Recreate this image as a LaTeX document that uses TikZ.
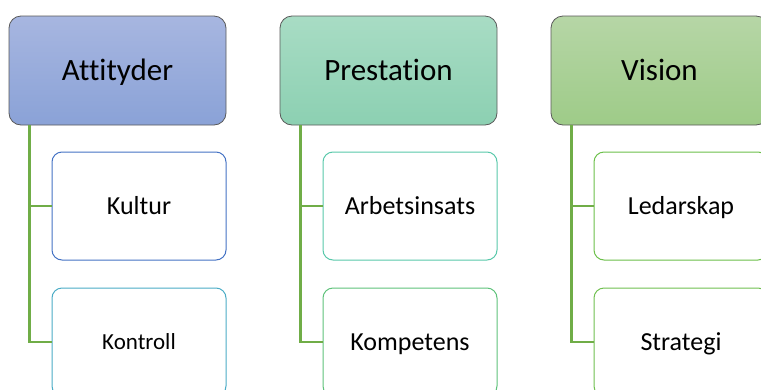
\documentclass[tikz,border=0pt]{standalone}
\usepackage{fontspec}
\setmainfont{Carlito}[Ligatures=NoCommon]
\usetikzlibrary{positioning}
\definecolor{attityderTop}{RGB}{167,182,224}
\definecolor{attityderBot}{RGB}{138,162,215}
\definecolor{prestationTop}{RGB}{168,220,196}
\definecolor{prestationBot}{RGB}{140,208,178}
\definecolor{visionTop}{RGB}{182,214,166}
\definecolor{visionBot}{RGB}{158,203,136}
\definecolor{kulturline}{RGB}{68,114,196}
\definecolor{kontrollline}{RGB}{75,172,198}
\definecolor{arbetsline}{RGB}{88,200,170}
\definecolor{kompetensline}{RGB}{94,194,122}
\definecolor{ledarline}{RGB}{108,192,74}
\definecolor{strategiline}{RGB}{112,192,80}
\definecolor{branchgreen}{RGB}{112,173,71}

\begin{document}
\begin{tikzpicture}[x=1pt, y=1pt, on grid,
    header/.style={rectangle, rounded corners=12pt, draw=black!65, line width=0.8pt,
        minimum width=217pt, minimum height=109pt, text height=20pt, text depth=0pt,
        font=\fontsize{31}{36}\selectfont},
    item/.style={rectangle, rounded corners=10pt, fill=white, line width=1pt,
        minimum width=174pt, minimum height=108pt, text height=16.7pt, text depth=0pt,
        font=\fontsize{26}{30}\selectfont},
    branch/.style={draw=branchgreen, line width=2.6pt}]
  \useasboundingbox (0,0) rectangle (761,-389);
  \clip (0,0) rectangle (761,-389);
  % headers
  \node [header, top color=attityderTop, bottom color=attityderBot] (ATT) at (117.5,-70.5) {Attityder};
  \node [header, top color=prestationTop, bottom color=prestationBot] (PRE) [right=271pt of ATT] {Prestation};
  \node [header, top color=visionTop, bottom color=visionBot] (VIS) [right=271pt of PRE] {Vision};
  % items
  \node [item, draw=kulturline] (KUL) [below right=135.5pt and 21.5pt of ATT] {Kultur};
  \node [item, draw=kontrollline, text height=14.8pt, font=\fontsize{23}{27}\selectfont] (KON) [below=136pt of KUL] {Kontroll};
  \node [item, draw=arbetsline] (ARB) [below right=135.5pt and 21.5pt of PRE] {Arbetsinsats};
  \node [item, draw=kompetensline] (KOM) [below=136pt of ARB] {Kompetens};
  \node [item, draw=ledarline] (LED) [below right=135.5pt and 21.5pt of VIS] {Ledarskap};
  \node [item, draw=strategiline] (STR) [below=136pt of LED] {Strategi};
  % branches
  \path [branch] ([xshift=21pt]ATT.south west) |- (KUL.west);
  \path [branch] ([xshift=21pt]ATT.south west) |- (KON.west);
  \path [branch] ([xshift=21pt]PRE.south west) |- (ARB.west);
  \path [branch] ([xshift=21pt]PRE.south west) |- (KOM.west);
  \path [branch] ([xshift=21pt]VIS.south west) |- (LED.west);
  \path [branch] ([xshift=21pt]VIS.south west) |- (STR.west);
\end{tikzpicture}
\end{document}
